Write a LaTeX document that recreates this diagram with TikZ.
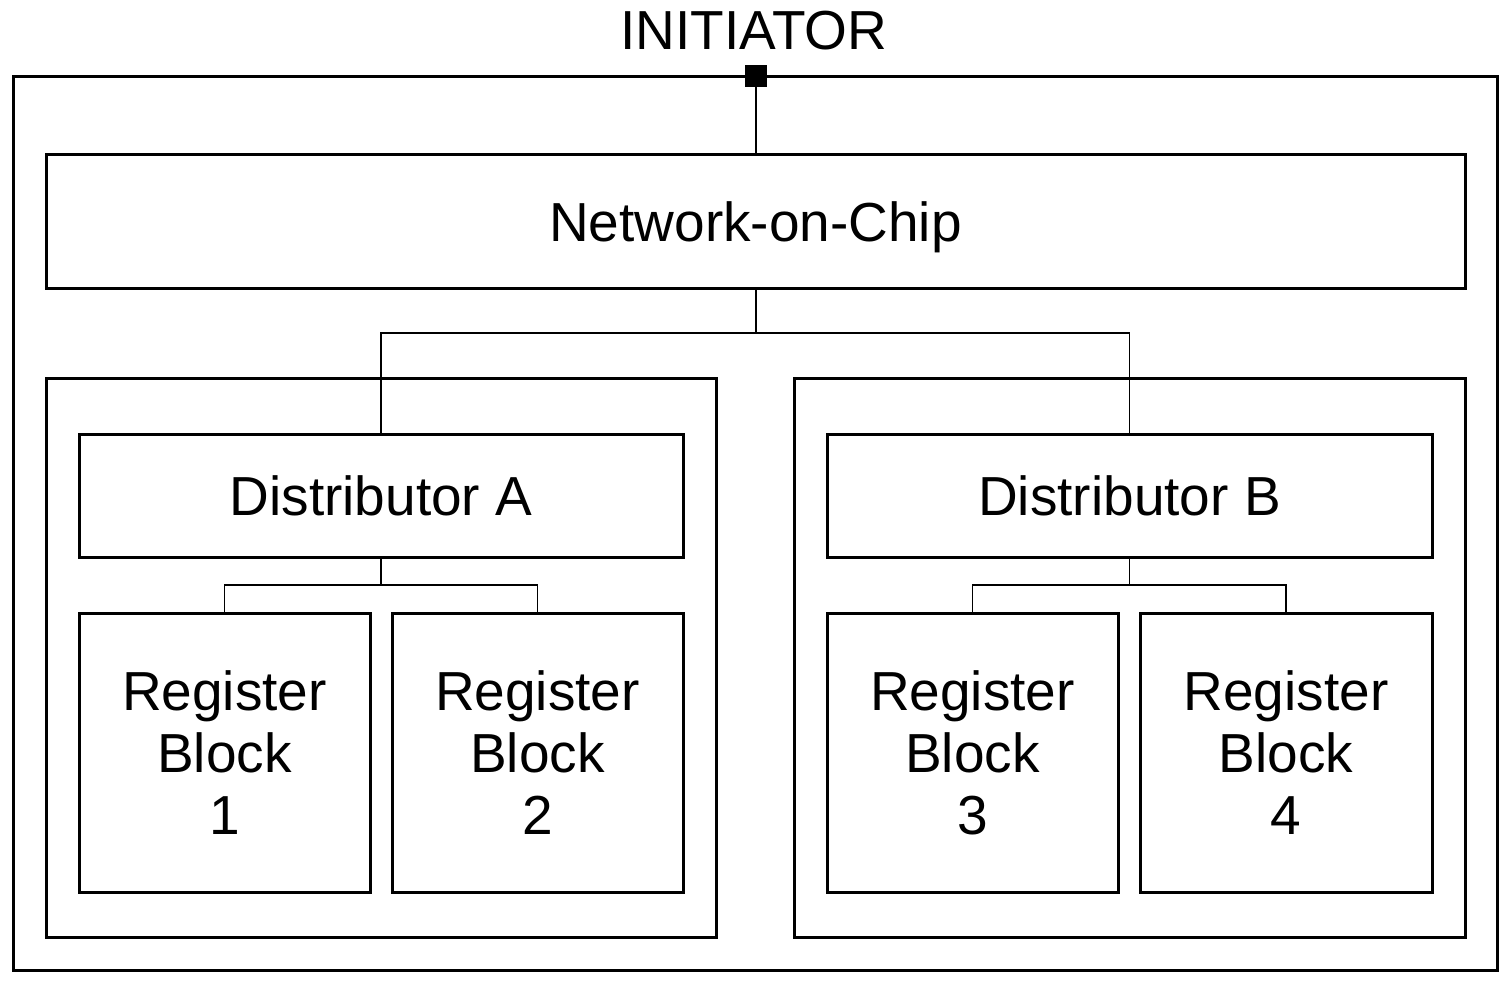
\documentclass[tikz,border=0pt]{standalone}
\usepackage{fontspec}
\setmainfont{Liberation Sans}
\newcommand\mybox[7][]{\node[box, #1, minimum width={(#5-#3)*0.5pt}, minimum height={(#6-#4)*0.5pt}] (#2) at ({(#3+#5)/2},{(#4+#6)/2}) {#7};}
\begin{document}
\begin{tikzpicture}[x=0.5pt,y=-0.5pt,
  box/.style={draw, line width=1.5pt, rectangle, inner sep=0pt, align=center,
    font=\fontsize{27.5}{31}\selectfont},
  wire/.style={line width=0.6pt},
  portsq/.style={fill=black, draw=none, rectangle, inner sep=0pt, minimum size=11pt}]
\useasboundingbox (0,0) rectangle (1510,984);
\mybox{outer}{13}{77}{1497}{970}{}
\mybox[text depth=0pt]{noc}{46}{155}{1465}{289}{Network-on-Chip}
\mybox{contA}{46}{378}{716}{937}{}
\mybox{contB}{794}{378}{1465}{937}{}
\mybox{distA}{79}{434}{683}{557}{Distributor A}
\mybox{distB}{827}{434}{1432}{557}{Distributor B}
\mybox{rb1}{79}{613}{370}{892}{Register\\Block\\1}
\mybox{rb2}{392}{613}{683}{892}{Register\\Block\\2}
\mybox{rb3}{827}{613}{1118}{892}{Register\\Block\\3}
\mybox{rb4}{1140}{613}{1432}{892}{Register\\Block\\4}
\node[portsq] (port) at (756,76) {};
\node[anchor=base, inner sep=0pt, font=\fontsize{27.5}{31}\selectfont] (init) at (754,50) {INITIATOR};
\coordinate (nocbus) at (756,333);
\coordinate (busA) at (381,585);
\coordinate (busB) at (1129.5,585);
\draw[wire] (port.south) -- (port.south |- noc.north);
\draw[wire] (noc.south -| nocbus) -- (nocbus);
\draw[wire] (distA.north) |- (nocbus) -| (distB.north);
\draw[wire] (distA.south) -- (busA);
\draw[wire] (rb1.north) |- (busA) -| (rb2.north);
\draw[wire] (distB.south) -- (busB);
\draw[wire] (rb3.north) |- (busB) -| (rb4.north);
\end{tikzpicture}
\end{document}
